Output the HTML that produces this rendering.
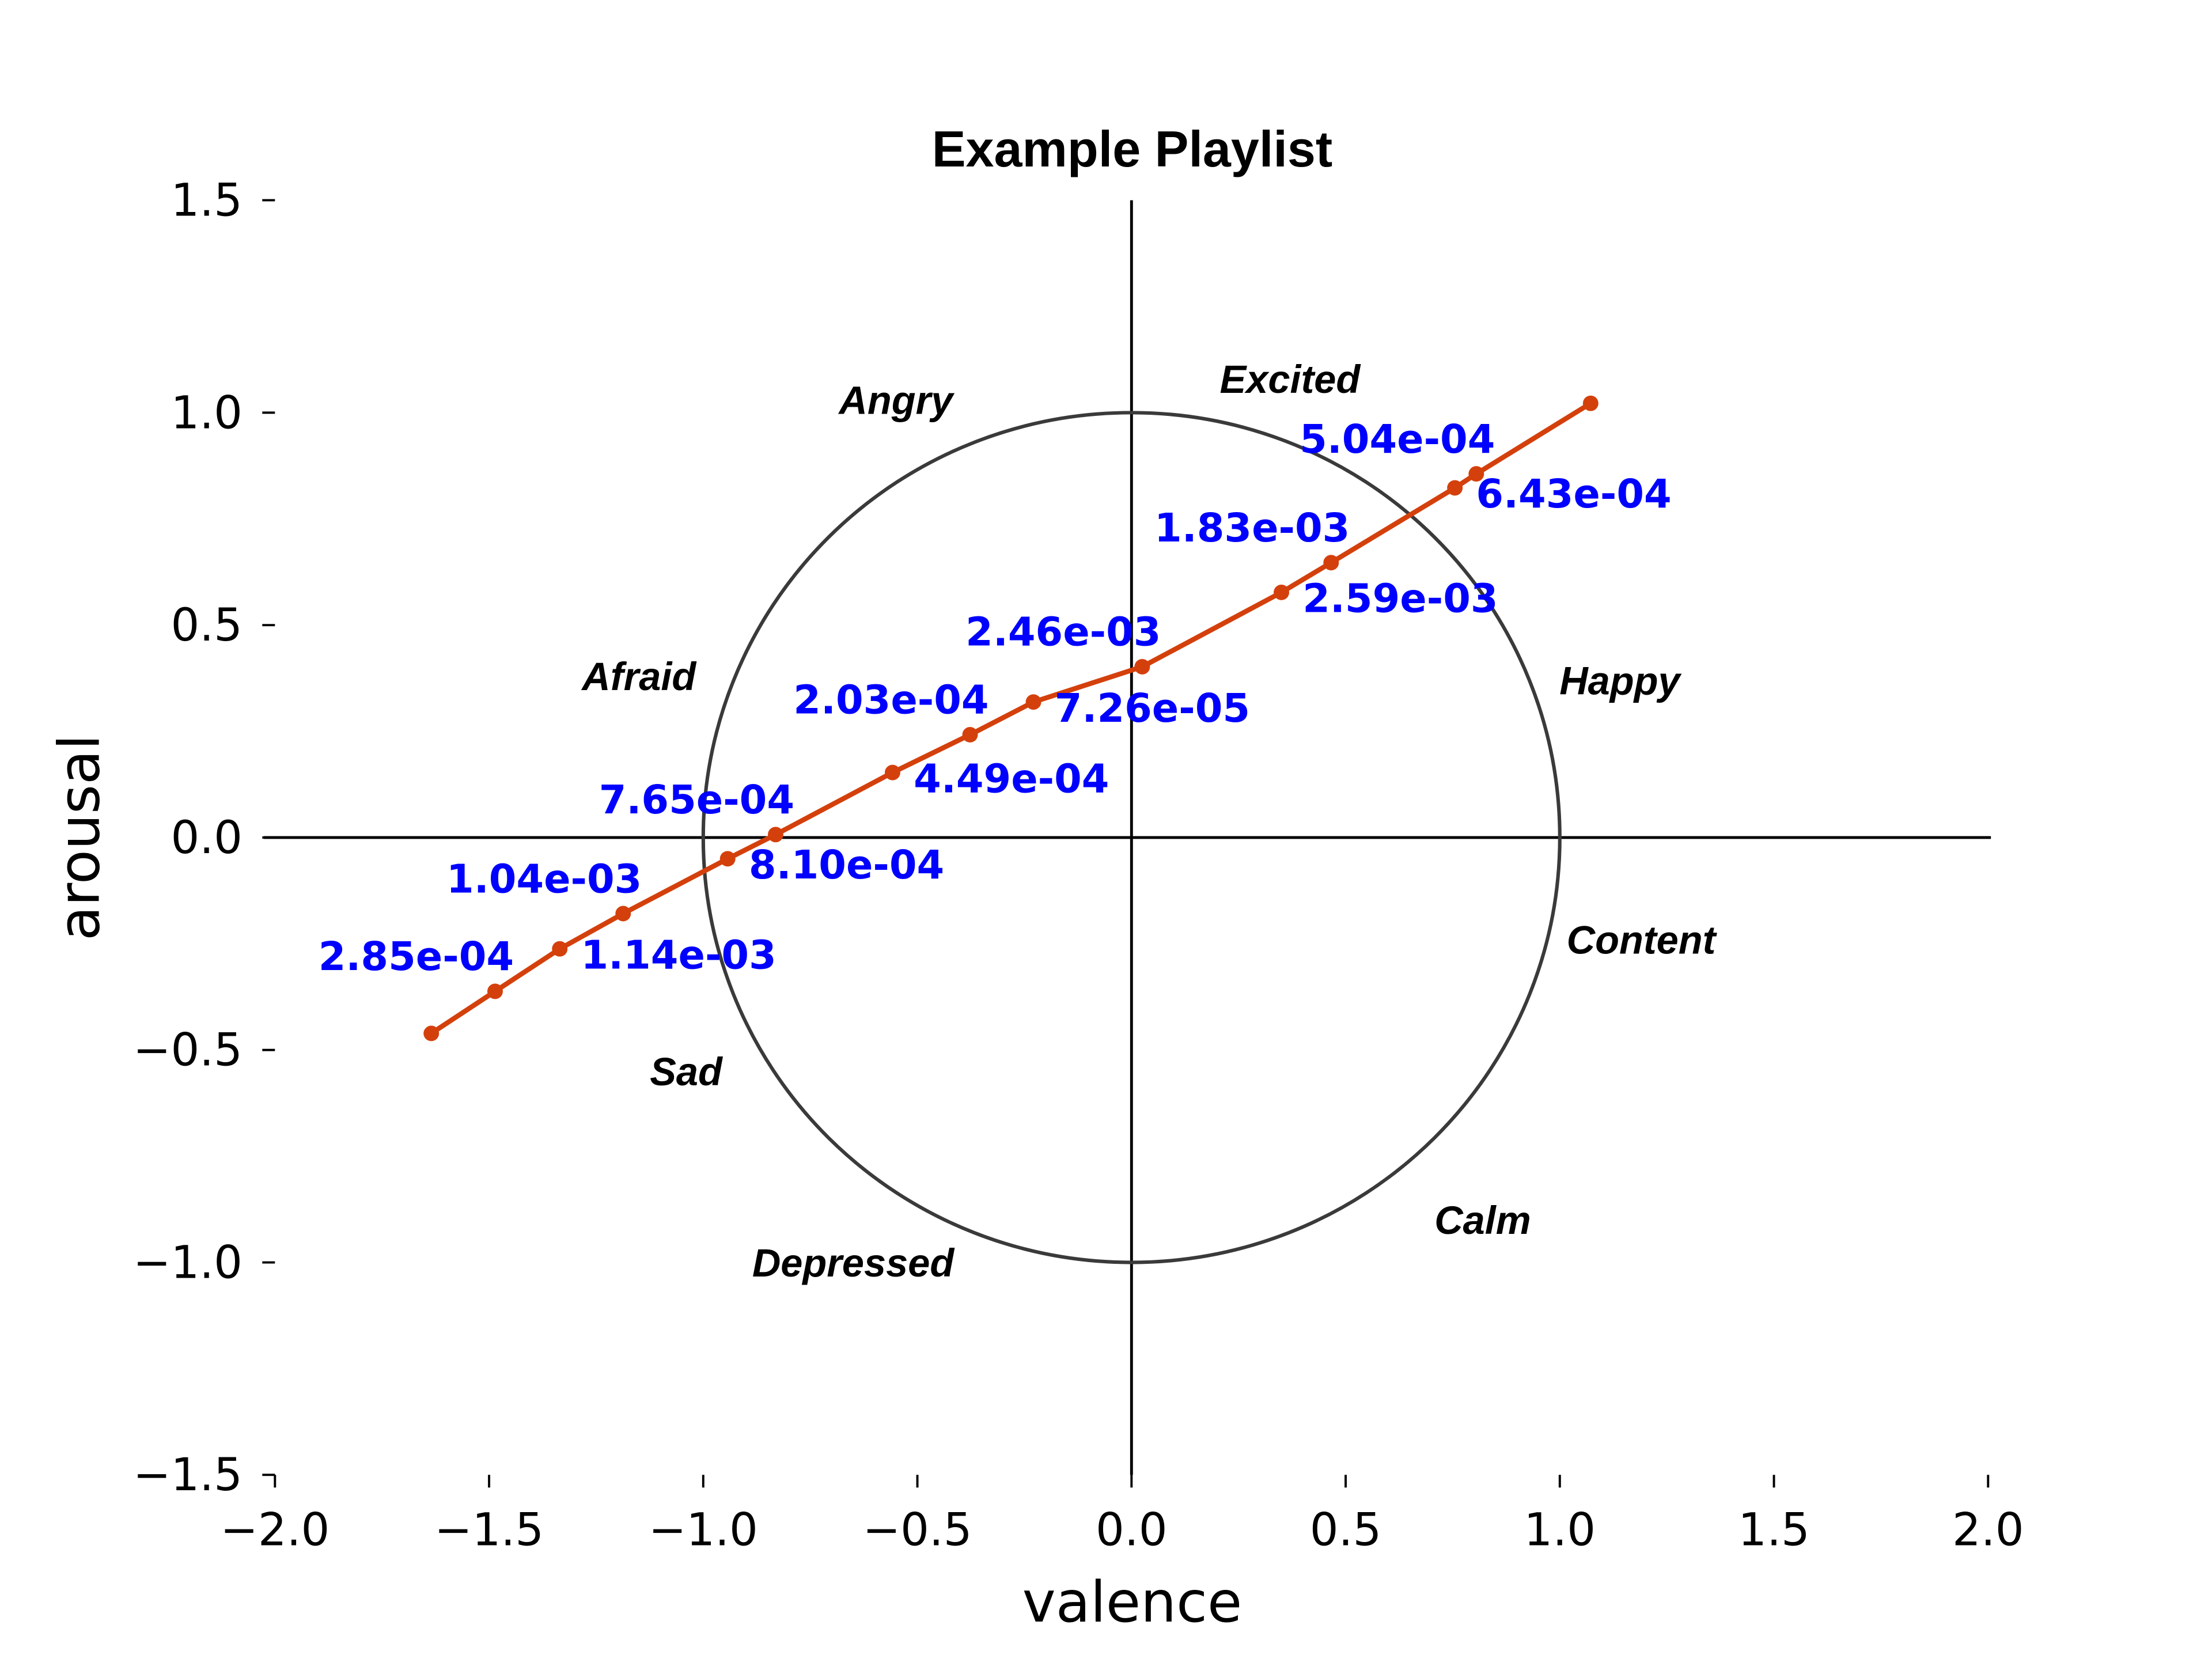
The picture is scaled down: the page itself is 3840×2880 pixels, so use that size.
<!DOCTYPE html>
<html><head><meta charset="utf-8"><style>
html,body{margin:0;padding:0;background:#fff;}
svg{display:block;}
.tick{font-family:"DejaVu Sans",sans-serif;font-size:32px;fill:#000;}
.lab{font-family:"DejaVu Sans",sans-serif;font-size:28px;font-weight:bold;fill:#0000ff;}
.emo{font-family:"Liberation Sans",sans-serif;font-size:28px;font-weight:bold;font-style:italic;fill:#000;}
</style></head><body>
<svg id="chart" width="3840" height="2880" viewBox="0 0 1568.8 1176.6" xmlns="http://www.w3.org/2000/svg">
<text x="803" y="118" text-anchor="middle" font-family="Liberation Sans, sans-serif" font-weight="bold" font-size="36">Example Playlist</text>
<text x="803" y="1150" text-anchor="middle" font-family="DejaVu Sans, sans-serif" font-size="40">valence</text>
<text transform="translate(70,594) rotate(-90)" text-anchor="middle" font-family="DejaVu Sans, sans-serif" font-size="40">arousal</text>
<g id="axes"></g>
<g id="marks"></g>
</svg>
<script>
const valence=[-1.635,-1.486,-1.335,-1.187,-0.943,-0.831,-0.558,-0.377,-0.229,0.025,0.350,0.466,0.755,0.805,1.072];
const arousal=[-0.461,-0.362,-0.262,-0.179,-0.050,0.007,0.153,0.242,0.319,0.402,0.577,0.647,0.823,0.856,1.022];
const pointLabels=["","2.85e-04","1.14e-03","1.04e-03","8.10e-04","7.65e-04","4.49e-04","2.03e-04","7.26e-05","2.46e-03","2.59e-03","1.83e-03","6.43e-04","5.04e-04",""];
const xTicks=[-2.0,-1.5,-1.0,-0.5,0.0,0.5,1.0,1.5,2.0];
const yTicks=[-1.5,-1.0,-0.5,0.0,0.5,1.0,1.5];
const emotions=["Excited","Angry","Afraid","Happy","Content","Sad","Depressed","Calm"];
const emoV=[0.37,-0.55,-1.15,1.14,1.19,-1.04,-0.65,0.82];
const emoA=[1.08,1.03,0.38,0.37,-0.24,-0.55,-1.0,-0.9];

const NS="http://www.w3.org/2000/svg";
const X=v=>802.5+v*303.75;
const Y=a=>594-a*301.33;
const fmt=v=>(v<0?"\u2212":"")+Math.abs(v).toFixed(1);
function mk(tag,attrs,parent){const e=document.createElementNS(NS,tag);for(const k in attrs)e.setAttribute(k,attrs[k]);parent.appendChild(e);return e;}
const axes=document.getElementById('axes'),marks=document.getElementById('marks');

xTicks.forEach(v=>{
  const l=mk('line',{x1:X(v),x2:X(v),y1:Y(-1.5),y2:Y(-1.5)+9,stroke:'#000','stroke-width':1.6},axes);
  
  
  const t=mk('text',{x:X(v),y:1096,'text-anchor':'middle',class:'tick'},axes);t.textContent=fmt(v);
  
  
});
yTicks.forEach(v=>{
  const l=mk('line',{x1:X(-2)-9,x2:X(-2),y1:Y(v),y2:Y(v),stroke:'#000','stroke-width':1.6},axes);
  
  
  const t=mk('text',{x:172,y:Y(v)+11,'text-anchor':'end',class:'tick'},axes);t.textContent=fmt(v);
  
  
});
let h=mk('line',{x1:187,x2:1412,y1:Y(0),y2:Y(0),stroke:'#000','stroke-width':2},axes);


let vl=mk('line',{x1:X(0),x2:X(0),y1:Y(1.5),y2:Y(-1.5),stroke:'#000','stroke-width':2},axes);


let c=mk('ellipse',{cx:X(0),cy:Y(0),rx:X(1)-X(0),ry:Y(0)-Y(1),fill:'none',stroke:'#3a3a3a','stroke-width':2.5},axes);



emotions.forEach((e,i)=>{
  const t=mk('text',{x:X(emoV[i]),y:Y(emoA[i])+10,'text-anchor':'middle',class:'emo'},marks);t.textContent=e;
  
  
});

const pts=valence.map((v,i)=>X(v)+','+Y(arousal[i])).join(' ');
const pl=mk('polyline',{points:pts,fill:'none',stroke:'#d4400c','stroke-width':3.5,'stroke-linejoin':'round'},marks);


valence.forEach((v,i)=>{
  const p=mk('circle',{cx:X(v),cy:Y(arousal[i]),r:5.5,fill:'#d4400c'},marks);
  
  
  if(pointLabels[i]){
    const above=(i%2===1);
    const t=mk('text',{x:above?X(v)-56:X(v)+15,y:above?Y(arousal[i])-15:Y(arousal[i])+14,'text-anchor':above?'middle':'start',class:'lab'},marks);
    t.textContent=pointLabels[i];
    
    
  }
});
</script>
</body></html>
